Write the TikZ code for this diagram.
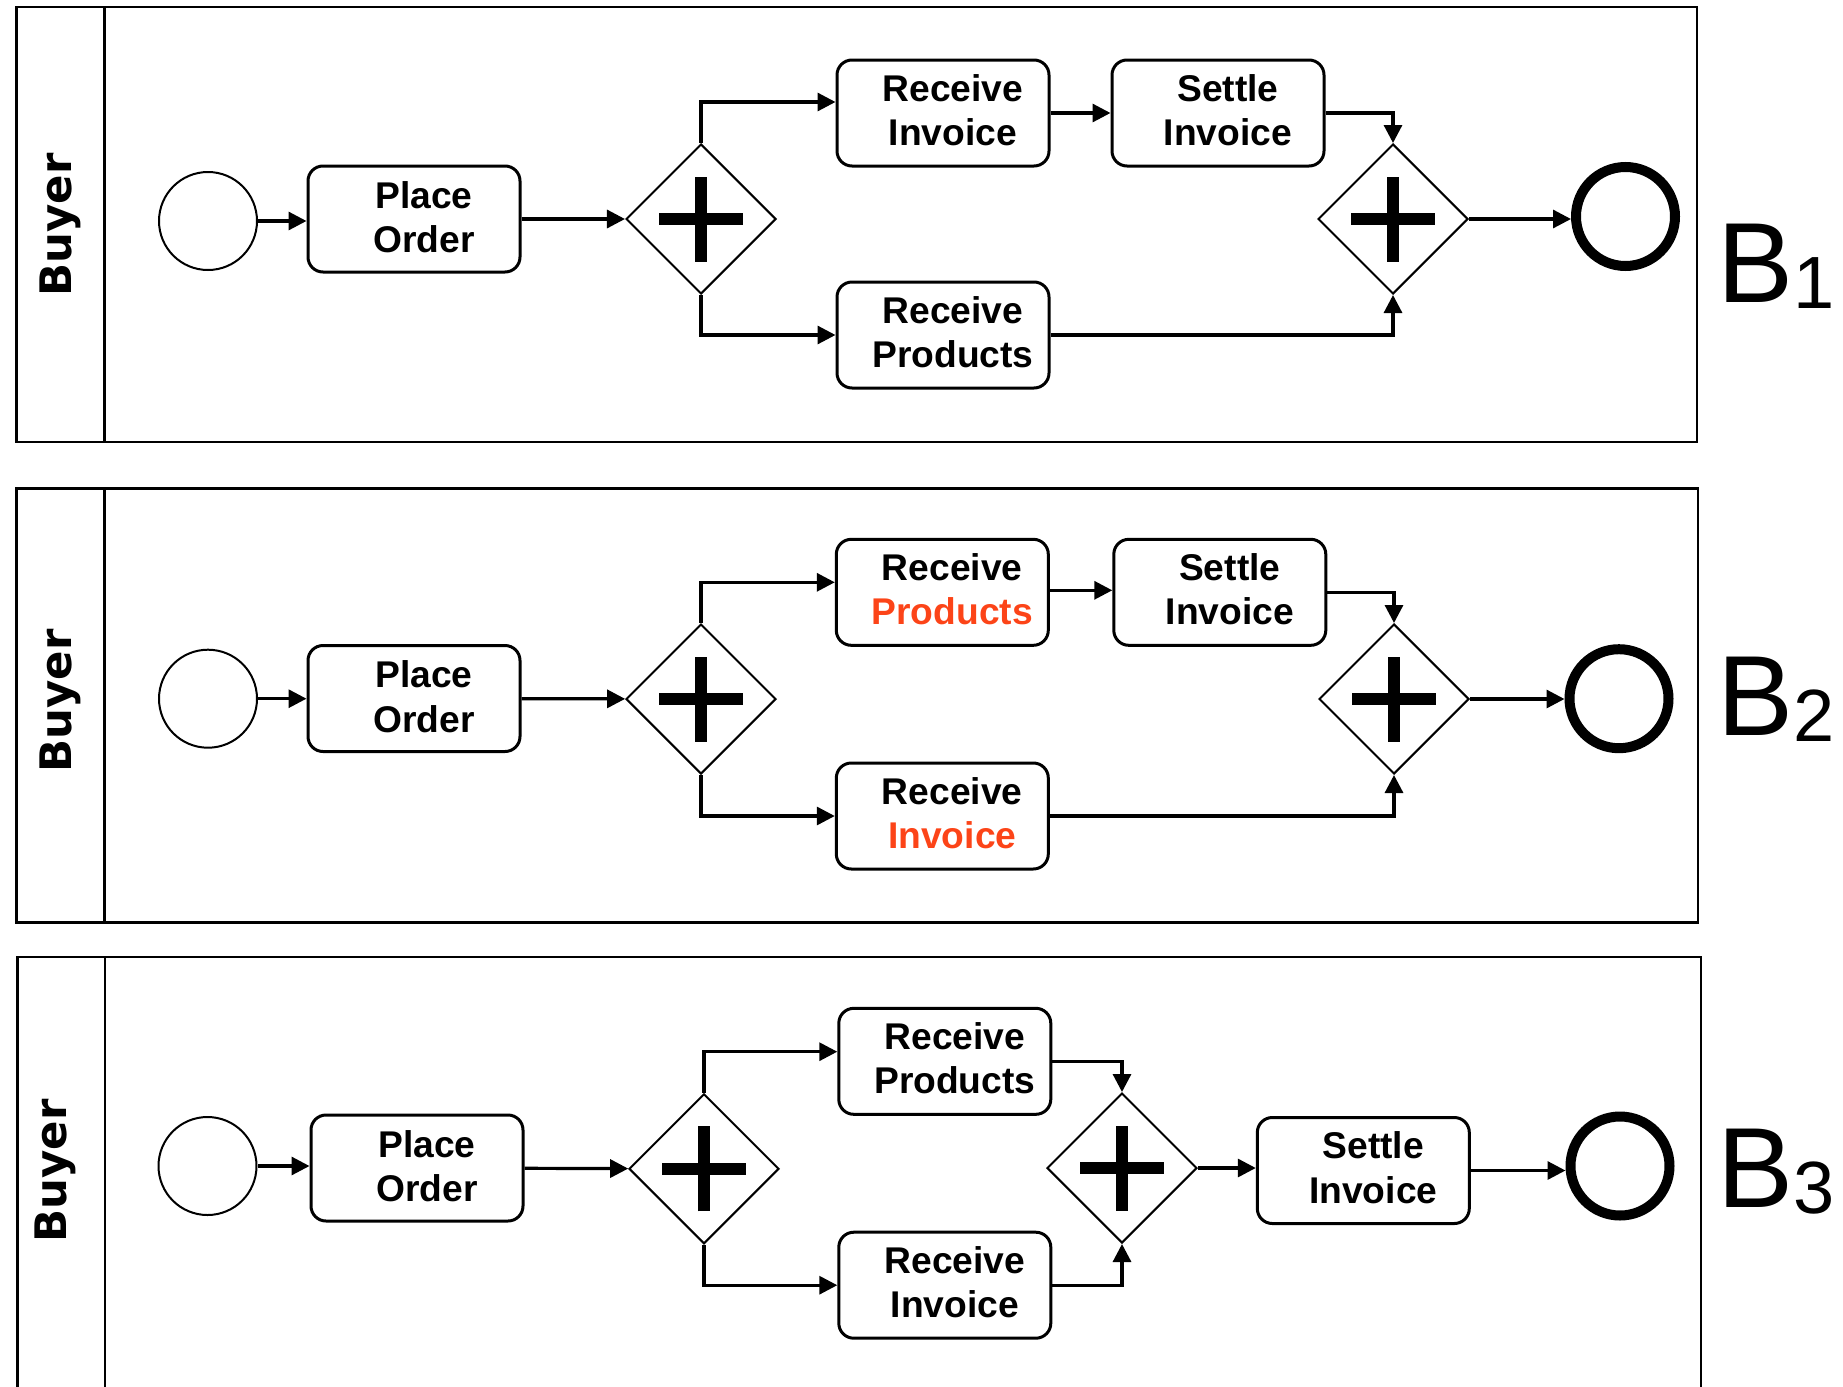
\documentclass[tikz,border=0pt]{standalone}
\usepackage{fontspec}
\setmainfont{Liberation Sans}
\newfontfamily\buyerfont{DejaVu Sans}
\usetikzlibrary{shapes.geometric,arrows.meta,calc}
\definecolor{hl}{RGB}{252,68,24}
\begin{document}
\begin{tikzpicture}[x=0.5pt,y=-0.5pt,
  lane/.style={line width=1.3pt},
  task/.style={draw, rounded corners=7.5pt, line width=1.5pt, minimum width=106pt, minimum height=53pt, inner sep=0pt},
  tasktext/.style={font=\bfseries\fontsize{18.6}{22.2}\selectfont, align=center, inner sep=0pt},
  startev/.style={circle, draw, line width=1pt, minimum size=49pt, inner sep=0pt},
  endev/.style={circle, draw, line width=5pt, minimum size=49.5pt, inner sep=0pt},
  gate/.style={diamond, draw, line width=1pt, minimum width=75pt, minimum height=75pt, inner sep=0pt,
    path picture={\draw[line width=6pt]
      ([xshift=-21pt]path picture bounding box.center) -- ([xshift=21pt]path picture bounding box.center)
      ([yshift=-21.25pt]path picture bounding box.center) -- ([yshift=21.25pt]path picture bounding box.center);}},
  flow/.style={line width=1.6pt, -{Triangle[length=9pt,width=9pt]}},
  lanelabel/.style={font=\buyerfont\bfseries\fontsize{21.7}{25}\selectfont, rotate=90, inner sep=0pt},
  varlabel/.style={anchor=base west, inner sep=0pt, font=\fontsize{57}{60}\selectfont}
]
\useasboundingbox (0,0) rectangle (1843,1387);

% ---------------- Panel 1 ----------------
\draw[lane] (16.5,7) rectangle (1697,442);
\draw[lane] (104.6,7) -- (104.6,442);
\node[lanelabel] (l1) at (60.5,225) {Buyer};

\node[startev] (s1) at (208,221) {};
\node[task] (po1) at (414,219) {};
\node[tasktext] (po1t) at ([xshift=5pt,yshift=1pt]po1.center) {Place\\Order};
\node[gate] (g1) at (701,219) {};
\node[task] (ri1) at (943,113) {};
\node[tasktext] (ri1t) at ([xshift=5pt,yshift=1.5pt]ri1.center) {Receive\\Invoice};
\node[task] (si1) at (1218,113) {};
\node[tasktext] (si1t) at ([xshift=5pt,yshift=1.5pt]si1.center) {Settle\\Invoice};
\node[task] (rp1) at (943,335) {};
\node[tasktext] (rp1t) at ([xshift=5pt,yshift=1.5pt]rp1.center) {Receive\\Products};
\node[gate] (g2) at (1393,219) {};
\node[endev] (e1) at (1625.5,216.5) {};
\node[varlabel] (b1) at (1717,302) {B\raisebox{-3.3pt}{\fontsize{37}{40}\selectfont 1}};

\draw[flow] (s1.east) -- (s1.east -| po1.west);
\draw[flow] (po1) -- (g1);
\draw[flow] (g1.north) |- ([yshift=5.5pt]ri1.west);
\draw[flow] (g1.south) |- (rp1.west);
\draw[flow] (ri1) -- (si1);
\draw[flow] (si1.east) -| (g2.north);
\draw[flow] (rp1.east) -| (g2.south);
\draw[flow] (g2.east) -- (g2.east -| e1.west);

% ---------------- Panel 2 ----------------
\draw[lane] (16.5,488.5) rectangle (1698,922.7);
\draw[lane] (104.6,488.5) -- (104.6,922.7);
\node[lanelabel] (l2) at (60.5,701) {Buyer};

\node[startev] (s2) at (208,698.7) {};
\node[task] (po2) at (414,698.5) {};
\node[tasktext] (po2t) at ([xshift=5pt,yshift=1pt]po2.center) {Place\\Order};
\node[gate] (g3) at (701,699) {};
\node[task] (rp2) at (942.3,592.3) {};
\node[tasktext] (rp2t) at ([xshift=5pt,yshift=1.5pt]rp2.center) {Receive\\\textcolor{hl}{Products}};
\node[task] (si2) at (1219.8,592.3) {};
\node[tasktext] (si2t) at ([xshift=5pt,yshift=1.5pt]si2.center) {Settle\\Invoice};
\node[task] (ri2) at (942.3,816) {};
\node[tasktext] (ri2t) at ([xshift=5pt,yshift=1.5pt]ri2.center) {Receive\\\textcolor{hl}{Invoice}};
\node[gate] (g4) at (1394,699) {};
\node[endev] (e2) at (1619,698.7) {};
\node[varlabel] (b2) at (1717,735) {B\raisebox{-3.3pt}{\fontsize{37}{40}\selectfont 2}};

\draw[flow] (s2.east) -- (s2.east -| po2.west);
\draw[flow] (po2) -- (g3);
\draw[flow] (g3.north) |- ([yshift=5pt]rp2.west);
\draw[flow] (g3.south) |- (ri2.west);
\draw[flow] ([yshift=1pt]rp2.east) -- ([yshift=1pt]si2.west);
\draw[flow] (si2.east) -| (g4.north);
\draw[flow] (ri2.east) -| (g4.south);
\draw[flow] (g4.east) -- (g4.east -| e2.west);

% ---------------- Panel 3 ----------------
\draw[lane] (17.2,1387) -- (17.2,957) -- (1701,957) -- (1701,1387);
\draw[lane] (105,957) -- (105,1387);
\node[lanelabel] (l3) at (55,1171) {Buyer};

\node[startev] (s3) at (207.5,1166) {};
\node[task] (po3) at (417,1168) {};
\node[tasktext] (po3t) at ([xshift=5pt,yshift=1pt]po3.center) {Place\\Order};
\node[gate] (g5) at (704,1168.8) {};
\node[task] (rp3) at (944.8,1061.3) {};
\node[tasktext] (rp3t) at ([xshift=5pt,yshift=1.5pt]rp3.center) {Receive\\Products};
\node[task] (ri3) at (944.8,1285.2) {};
\node[tasktext] (ri3t) at ([xshift=5pt,yshift=1.5pt]ri3.center) {Receive\\Invoice};
\node[gate] (g6) at (1122,1168) {};
\node[task] (si3) at (1363.3,1170.5) {};
\node[tasktext] (si3t) at ([xshift=5pt,yshift=1.5pt]si3.center) {Settle\\Invoice};
\node[endev] (e3) at (1620,1166) {};
\node[varlabel] (b3) at (1717,1207) {B\raisebox{-3.3pt}{\fontsize{37}{40}\selectfont 3}};

\draw[flow] (s3.east) -- (s3.east -| po3.west);
\draw[flow] (po3) -- (g5);
\draw[flow] (g5.north) |- ([yshift=4.8pt]rp3.west);
\draw[flow] (g5.south) |- (ri3.west);
\draw[flow] (rp3.east) -| (g6.north);
\draw[flow] (ri3.east) -| (g6.south);
\draw[flow] (g6.east) -- (g6.east -| si3.west);
\draw[flow] (si3.east) -- (si3.east -| e3.west);
\end{tikzpicture}
\end{document}
